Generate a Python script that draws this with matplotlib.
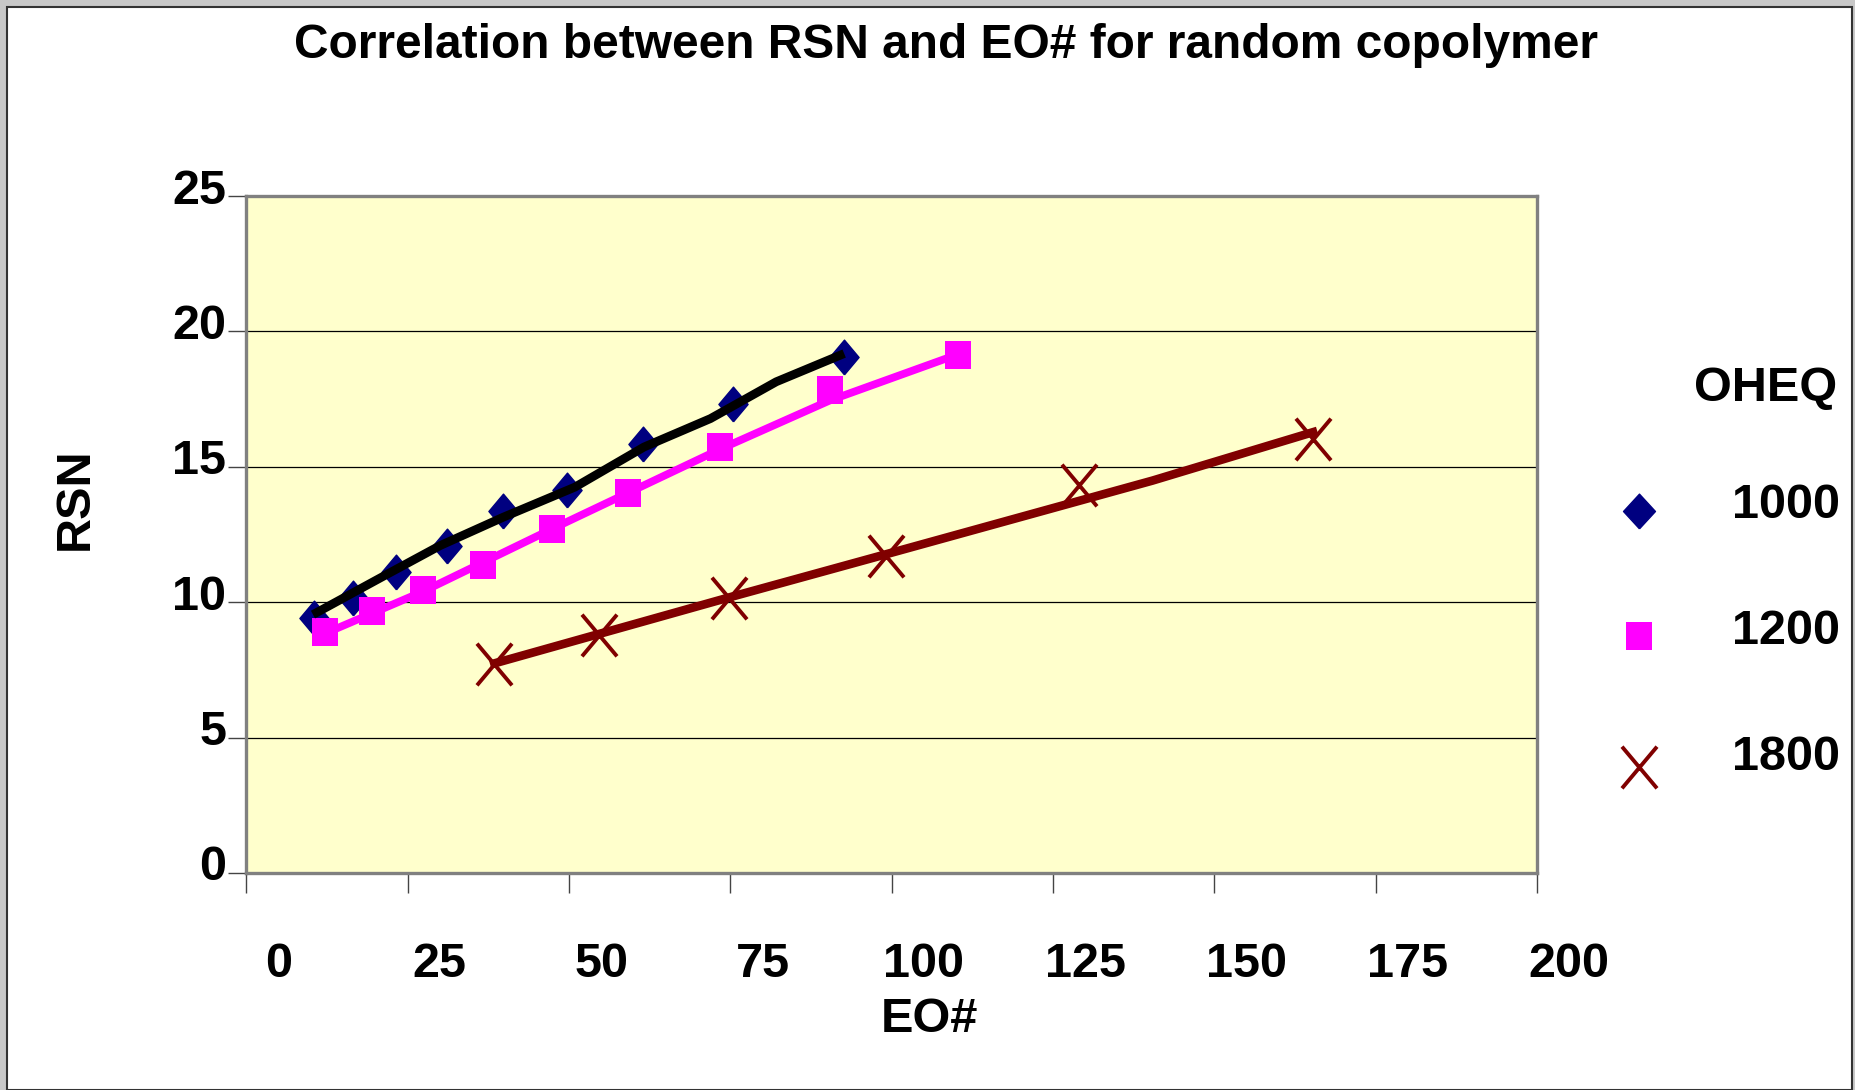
import matplotlib
matplotlib.use("Agg")
import matplotlib.pyplot as plt
import matplotlib.transforms as mtransforms
from matplotlib.lines import Line2D
from matplotlib.patches import Rectangle
from matplotlib.path import Path

plt.rcParams['font.family'] = ['Liberation Sans', 'DejaVu Sans']
plt.rcParams['font.weight'] = 'bold'

# data
eo_1000 = [10.4, 16.5, 23.1, 31.1, 39.7, 49.6, 61.4, 75.4, 92.6]
rsn_1000 = [9.43, 10.17, 11.10, 12.09, 13.38, 14.16, 15.85, 17.33, 19.06]
eo_1200 = [12.2, 19.5, 27.4, 36.7, 47.3, 59.1, 73.4, 90.4, 110.2]
rsn_1200 = [8.90, 9.68, 10.45, 11.38, 12.70, 14.02, 15.72, 17.82, 19.13]
eo_1800 = [38.4, 54.7, 74.7, 99.1, 129.0, 165.3]
rsn_1800 = [7.73, 8.78, 10.17, 11.70, 14.32, 16.02]

# trend lines (vertices as drawn)
trend_x_1000 = [10.9, 21.3, 30.0, 39.8, 50.9, 61.6, 71.9, 82.1, 92.0]
trend_y_1000 = [9.62, 10.97, 12.09, 13.14, 14.25, 15.73, 16.78, 18.14, 19.12]
trend_x_1200 = [12.2, 27.4, 47.3, 73.4, 90.4, 110.2]
trend_y_1200 = [8.85, 10.40, 12.70, 15.65, 17.45, 19.15]
trend_x_1800 = [38.4, 74.7, 99.1, 140.4, 165.3]
trend_y_1800 = [7.74, 10.17, 11.77, 14.49, 16.28]

legend_title = "OHEQ"
legend_labels = ["1000", "1200", "1800"]
x_ticks = [0, 25, 50, 75, 100, 125, 150, 175, 200]
y_ticks = [0, 5, 10, 15, 20, 25]

W, H = 1855, 1090
fig = plt.figure(figsize=(W / 100, H / 100), dpi=100)
fig.patch.set_facecolor('#c8c8c8')

# white slide panel with a thin frame
fig.add_artist(Rectangle((7 / W, 0), (1852 - 7) / W, (H - 7) / H, transform=fig.transFigure,
                         facecolor='white', edgecolor='#333333', linewidth=1.5, zorder=0))

ax = fig.add_axes([246.5 / W, (H - 873) / H, 1290.5 / W, (873 - 196) / H])
ax.set_facecolor('#FFFFCC')

# markers in the original are a bit taller than wide
diamond = [(0, -0.5), (0.42, 0), (0, 0.5), (-0.42, 0), (0, -0.5)]
square = [(-0.47, -0.5), (0.47, -0.5), (0.47, 0.5), (-0.47, 0.5), (-0.47, -0.5)]
cross = Path([(-0.42, -0.5), (0.42, 0.5), (-0.42, 0.5), (0.42, -0.5)],
             [Path.MOVETO, Path.LINETO, Path.MOVETO, Path.LINETO])

ax.plot(trend_x_1000, trend_y_1000, color='black', lw=6.3, zorder=3)
ax.plot(trend_x_1200, trend_y_1200, color='#FF00FF', lw=5.6, zorder=3)
ax.plot(trend_x_1800, trend_y_1800, color='#800000', lw=6.2, zorder=3)

ax.plot(eo_1000, rsn_1000, ls='none', marker=diamond, ms=25, color='#000080', zorder=2)
ax.plot(eo_1200, rsn_1200, ls='none', marker=square, ms=20.5, color='#FF00FF', mew=0, zorder=2)
ax.plot(eo_1800, rsn_1800, ls='none', marker=cross, ms=30, mew=2.8, color='#800000',
        fillstyle='none', zorder=4)

ax.set_xlim(0, 200)
ax.set_ylim(0, 25)
ax.set_xticks(x_ticks)
ax.set_yticks(y_ticks)
ax.set_xticklabels([str(t) for t in x_ticks])
ax.set_yticklabels([str(t) for t in y_ticks])

ax.yaxis.grid(True, color='black', lw=0.9)
ax.set_axisbelow(True)
for s in ax.spines.values():
    s.set_color('#808080')
    s.set_linewidth(2.4)

ax.tick_params(axis='x', direction='out', length=14.5, width=1, color='#444444',
               labelsize=35, pad=35)
ax.tick_params(axis='y', direction='out', length=13, width=1, color='#444444',
               labelsize=35, pad=1.5)

# labels in the original sit a bit right of / above their ticks
for lab in ax.get_xticklabels():
    lab.set_transform(lab.get_transform() + mtransforms.ScaledTranslation(0.32, 0, fig.dpi_scale_trans))
for lab in ax.get_yticklabels():
    lab.set_transform(lab.get_transform() + mtransforms.ScaledTranslation(0, 0.10, fig.dpi_scale_trans))

fig.text(946 / W, 1 - 45 / H, "Correlation between RSN and EO# for random copolymer",
         ha='center', va='center', fontsize=34.5, fontweight='bold')
fig.text(929 / W, 1 - 1020 / H, "EO#", ha='center', va='center', fontsize=35, fontweight='bold')
fig.text(75 / W, 1 - 499 / H, "RSN", ha='center', va='center', rotation=90,
         fontsize=35, fontweight='bold')

# legend drawn by hand
fig.text(1837 / W, 1 - 388 / H, legend_title, ha='right', va='center', fontsize=35, fontweight='bold')
leg_y = [505, 631, 757]
mark_y = [511, 636, 767]
styles = [dict(marker=[(0, -0.5), (0.46, 0), (0, 0.5), (-0.46, 0), (0, -0.5)], ms=25, color='#000080'),
          dict(marker=square, ms=20.5, mew=0, color='#FF00FF'),
          dict(marker=cross, ms=30, mew=2.8, fillstyle='none', color='#800000')]
for lab, ly, my, st in zip(legend_labels, leg_y, mark_y, styles):
    fig.add_artist(Line2D([1639 / W], [1 - my / H], transform=fig.transFigure, ls='none', **st))
    fig.text(1840 / W, 1 - ly / H, lab, ha='right', va='center', fontsize=35, fontweight='bold')

fig.savefig("out.png", dpi=100)
